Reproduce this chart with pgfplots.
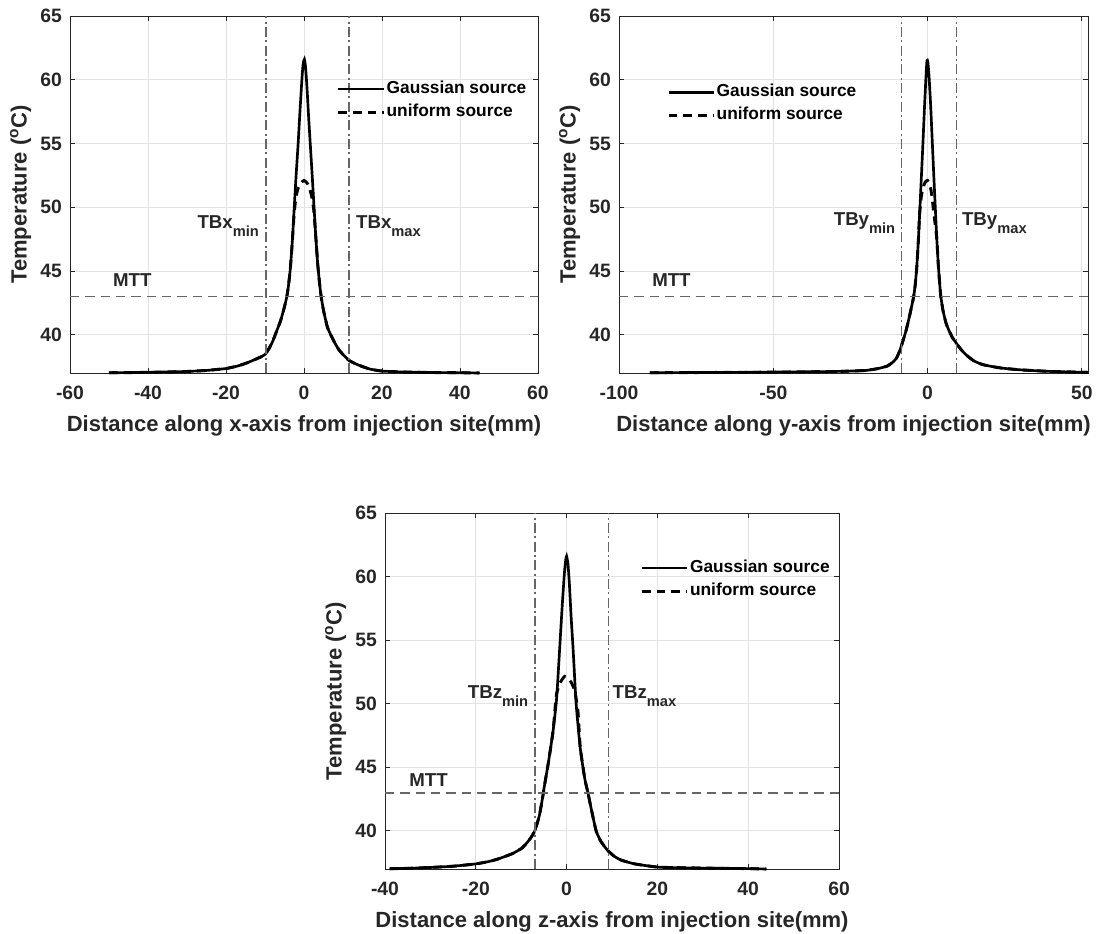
\documentclass[border=0pt]{standalone}
\usepackage{fontspec}
\setmainfont{Liberation Sans}
\usepackage{pgfplots}
\pgfplotsset{compat=1.18}
\definecolor{axc}{gray}{0.15}
\definecolor{refc}{gray}{0.40}

\pgfplotsset{
 mystyle/.style={
  scale only axis, clip=false,
  ymin=37, ymax=65, ytick={40,45,50,55,60,65},
  grid=major, grid style={gray!22, line width=0.6pt},
  axis line style={axc, line width=0.7pt},
  tick style={axc, line width=0.6pt}, major tick length=4pt,
  tick label style={font=\fontsize{14.5}{16}\selectfont\bfseries, text=axc},
  xticklabel style={yshift=-6.5pt},
  yticklabel style={xshift=-2.5pt},
  /pgf/number format/assume math mode=true,
  label style={font=\fontsize{16.5}{19}\selectfont\bfseries, text=axc},
  xlabel style={yshift=-4.5pt},
  ylabel={Temperature (\textsuperscript{o}C)},
  legend cell align=left,
  legend style={draw=none, fill=none, anchor=north west, inner sep=0pt, row sep=3.25pt,
    font=\fontsize{13}{14}\selectfont\bfseries,
    nodes={text height=9pt, text depth=3pt, inner sep=1pt}},
  legend image code/.code={\draw[##1] (0pt,0pt) -- (34pt,0pt);},
 },
 gauss/.style={black, line width=2pt, smooth, tension=0.3},
 unif/.style={black, line width=2.2pt, dash pattern=on 6.5pt off 4.5pt, smooth, tension=0.3},
 refv/.style={refc, line width=1.2pt, dash pattern=on 7.5pt off 2.5pt on 1.5pt off 2.5pt, forget plot},
 refh/.style={refc, line width=1.2pt, dash pattern=on 7pt off 4.5pt, forget plot},
}
\tikzset{annot/.style={inner sep=0pt, font=\fontsize{14}{16}\selectfont\bfseries, text=axc}}
\newcommand{\sub}[1]{\raisebox{-6pt}{\fontsize{11}{12}\selectfont #1}}

\begin{document}
\begin{tikzpicture}
\path[use as bounding box] (0,0) rectangle (824.25pt,700.5pt);

% ---------------- x-axis plot ----------------
\begin{axis}[mystyle, at={(52.5pt,420.75pt)}, anchor=south west,
  width=351pt, height=267.75pt,
  xmin=-60, xmax=60, xtick={-60,-40,...,60},
  xlabel={Distance along x-axis from injection site(mm)},
  legend style={at={(0.570,0.822)}}]
\addplot[gauss] coordinates {(-50,37.02) (-45,37.03) (-40,37.05) (-35,37.08) (-30,37.12) (-25,37.2) (-20,37.35) (-17,37.55) (-15,37.75) (-13,38.0) (-11.5,38.2) (-10,38.45) (-9,38.9) (-8,39.5) (-7,40.3) (-6,41.1) (-5,42.2) (-4.4,43.0) (-4,43.8) (-3.5,45.2) (-3,47.3) (-2.5,50.0) (-2,52.6) (-1.5,55.0) (-1,57.7) (-0.5,60.2) (-0.2,61.3) (0.1,61.6) (0.4,61.0) (0.8,59.2) (1.2,57.0) (1.6,55.0) (2,53.0) (2.5,50.4) (3,47.8) (3.5,45.6) (4,44.0) (4.4,43.0) (5,41.9) (6,40.6) (7,39.9) (8,39.3) (9,38.8) (10,38.45) (11.5,38.0) (13,37.75) (15,37.5) (17,37.3) (20,37.15) (25,37.08) (30,37.05) (35,37.03) (40,37.02) (45,37.0)};
\addlegendentry{Gaussian source}
\addplot[unif] coordinates {(-50,37.02) (-45,37.03) (-40,37.05) (-35,37.08) (-30,37.12) (-25,37.2) (-20,37.35) (-17,37.55) (-15,37.75) (-13,38.0) (-11.5,38.2) (-10,38.45) (-9,38.9) (-8,39.5) (-7,40.3) (-6,41.1) (-5,42.2) (-4.4,43.0) (-4,43.8) (-3.5,45.2) (-3,47.3) (-2.5,49.6) (-2,50.9) (-1.5,51.5) (-1,51.85) (-0.5,52.0) (0,52.1) (0.5,52.0) (1,51.8) (1.5,51.4) (2,50.8) (2.5,49.8) (3,47.8) (3.5,45.6) (4,44.0) (4.4,43.0) (5,41.9) (6,40.6) (7,39.9) (8,39.3) (9,38.8) (10,38.45) (11.5,38.0) (13,37.75) (15,37.5) (17,37.3) (20,37.15) (25,37.08) (30,37.05) (35,37.03) (40,37.02) (45,37.0)};
\addlegendentry{uniform source}
\addplot[refh] coordinates {(-60,43) (60,43)};
\addplot[refv] coordinates {(-9.74,37) (-9.74,65)};
\addplot[refv] coordinates {(11.6,37) (11.6,65)};
\node[annot, anchor=base west] at (axis cs:-49,43.8) {MTT};
\node[annot, anchor=base east] at (axis cs:-11.5,48.33) {TBx\sub{min}};
\node[annot, anchor=base west] at (axis cs:13.3,48.33) {TBx\sub{max}};
\end{axis}

% ---------------- y-axis plot ----------------
\begin{axis}[mystyle, at={(464.25pt,420.75pt)}, anchor=south west,
  width=351.75pt, height=267.75pt,
  xmin=-100, xmax=52, xtick={-100,-50,0,50},
  xlabel={Distance along y-axis from injection site(mm)},
  legend style={at={(0.102,0.813)}}]
\addplot[gauss] coordinates {(-90,37.02) (-80,37.03) (-70,37.04) (-60,37.05) (-50,37.07) (-40,37.09) (-30,37.12) (-25,37.15) (-20,37.2) (-16,37.35) (-13,37.55) (-11,37.9) (-10,38.2) (-9,38.75) (-8,39.5) (-7,40.3) (-6,41.3) (-5,42.4) (-4.5,43.0) (-4,43.9) (-3.5,45.3) (-3,47.3) (-2.5,49.8) (-2,52.4) (-1.5,55.0) (-1,57.8) (-0.5,60.3) (-0.2,61.5) (0.1,61.4) (0.5,60.2) (1,58.0) (1.5,55.3) (2,52.6) (2.5,50.0) (3,47.5) (3.5,45.4) (4,43.8) (4.3,43.0) (5,41.9) (6,40.9) (7,40.3) (7.6,40.0) (8,39.8) (9,39.45) (9.7,39.2) (11,38.8) (12.6,38.4) (15,37.95) (18,37.65) (23.5,37.4) (30,37.25) (40,37.12) (52,37.05)};
\addlegendentry{Gaussian source}
\addplot[unif] coordinates {(-90,37.02) (-80,37.03) (-70,37.04) (-60,37.05) (-50,37.07) (-40,37.09) (-30,37.12) (-25,37.15) (-20,37.2) (-16,37.35) (-13,37.55) (-11,37.9) (-10,38.2) (-9,38.75) (-8,39.5) (-7,40.3) (-6,41.3) (-5,42.4) (-4.5,43.0) (-4,43.9) (-3.5,45.3) (-3,47.3) (-2.6,49.4) (-2,50.9) (-1.5,51.5) (-1,51.85) (-0.5,52.05) (0,52.1) (0.5,51.9) (1,51.5) (1.5,50.7) (2,49.6) (2.5,48.6) (3,47.5) (3.5,45.4) (4,43.8) (4.3,43.0) (5,41.9) (6,40.9) (7,40.3) (7.6,40.0) (8,39.8) (9,39.45) (9.7,39.2) (11,38.8) (12.6,38.4) (15,37.95) (18,37.65) (23.5,37.4) (30,37.25) (40,37.12) (52,37.05)};
\addlegendentry{uniform source}
\addplot[refh] coordinates {(-100,43) (52,43)};
\addplot[refv] coordinates {(-8.4,37) (-8.4,65)};
\addplot[refv] coordinates {(9.4,37) (9.4,65)};
\node[annot, anchor=base west] at (axis cs:-89.3,43.75) {MTT};
\node[annot, anchor=base east] at (axis cs:-10.4,48.6) {TBy\sub{min}};
\node[annot, anchor=base west] at (axis cs:11.1,48.6) {TBy\sub{max}};
\end{axis}

% ---------------- z-axis plot ----------------
\begin{axis}[mystyle, at={(288.75pt,48.75pt)}, anchor=south west,
  width=340.5pt, height=267pt,
  xmin=-40, xmax=60, xtick={-40,-20,...,60},
  xlabel={Distance along z-axis from injection site(mm)},
  legend style={at={(0.562,0.872)}}]
\addplot[gauss] coordinates {(-39,37.02) (-35,37.05) (-30,37.12) (-25,37.22) (-20,37.4) (-17,37.6) (-15,37.8) (-12,38.2) (-10,38.6) (-9,38.95) (-8,39.4) (-7,40.0) (-6,41.2) (-5.2,42.8) (-5,43.3) (-4,45.4) (-3,47.8) (-2.3,50.0) (-2,51.5) (-1.5,54.5) (-1,57.5) (-0.5,60.2) (-0.2,61.3) (0,61.6) (0.3,61.0) (0.6,59.5) (1,56.8) (1.4,54.5) (2.1,50.0) (3,46.5) (4,44.1) (4.7,43.0) (5.5,41.6) (6.5,40.0) (7.5,39.2) (8.5,38.7) (9.2,38.4) (10.5,38.0) (12,37.7) (15,37.4) (20,37.15) (25,37.1) (30,37.07) (35,37.05) (40,37.03) (44,37.0)};
\addlegendentry{Gaussian source}
\addplot[unif] coordinates {(-39,37.02) (-35,37.05) (-30,37.12) (-25,37.22) (-20,37.4) (-17,37.6) (-15,37.8) (-12,38.2) (-10,38.6) (-9,38.95) (-8,39.4) (-7,40.0) (-6,41.2) (-5.2,42.8) (-5,43.3) (-4,45.4) (-3,47.8) (-2.5,49.8) (-2.2,50.8) (-1.5,51.6) (-0.8,52.0) (-0.4,52.15) (0.2,52.0) (1,51.7) (1.8,51.0) (2.5,49.4) (3,46.6) (4,44.1) (4.7,43.0) (5.5,41.6) (6.5,40.0) (7.5,39.2) (8.5,38.7) (9.2,38.4) (10.5,38.0) (12,37.7) (15,37.4) (20,37.15) (25,37.1) (30,37.07) (35,37.05) (40,37.03) (44,37.0)};
\addlegendentry{uniform source}
\addplot[refh] coordinates {(-40,43) (60,43)};
\addplot[refv] coordinates {(-7.0,37) (-7.0,65)};
\addplot[refv] coordinates {(9.2,37) (9.2,65)};
\node[annot, anchor=base west] at (axis cs:-34.7,43.5) {MTT};
\node[annot, anchor=base east] at (axis cs:-8.4,50.4) {TBz\sub{min}};
\node[annot, anchor=base west] at (axis cs:10.1,50.4) {TBz\sub{max}};
\end{axis}
\end{tikzpicture}
\end{document}
